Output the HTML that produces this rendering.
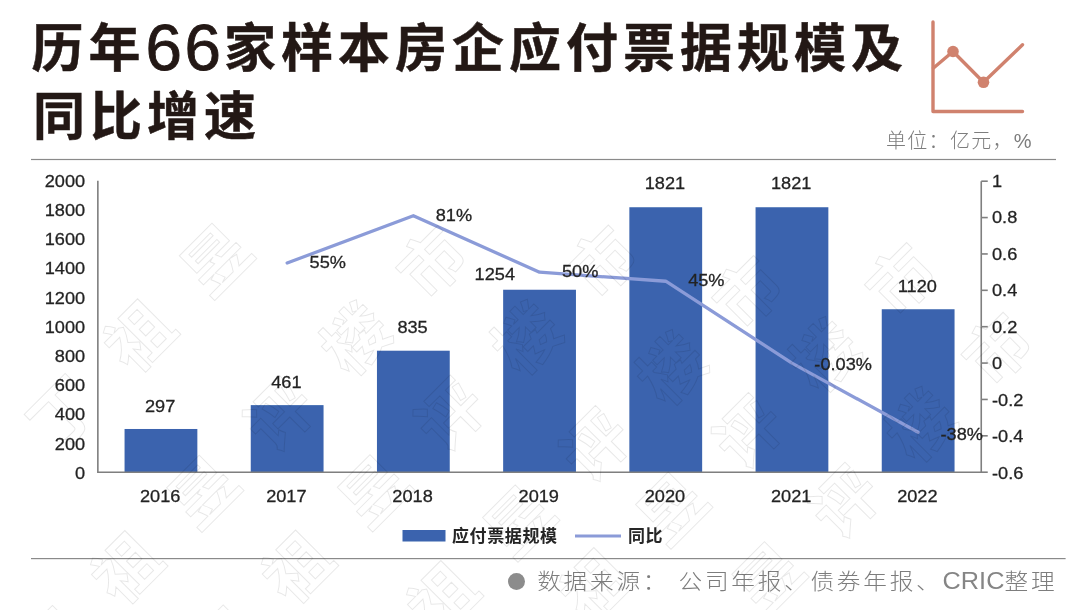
<!DOCTYPE html>
<html lang="zh-CN">
<head>
<meta charset="utf-8">
<title>历年66家样本房企应付票据规模及同比增速</title>
<style>
html,body{margin:0;padding:0;background:#fff;}
body{width:1080px;height:610px;overflow:hidden;position:relative;font-family:"Liberation Sans","Noto Sans CJK SC",sans-serif;}
svg{position:absolute;left:0;top:0;display:block;will-change:transform;}
.t{font-family:"Liberation Sans","Noto Sans CJK SC",sans-serif;}
.ax{font-family:"Liberation Sans",sans-serif;font-size:17px;fill:#242424;stroke:#242424;stroke-width:0.28px;}
.title{font-family:"Liberation Sans","Noto Sans CJK SC",sans-serif;font-weight:700;font-size:52px;fill:#231815;letter-spacing:5px;stroke:#231815;stroke-width:0.5px;}
.d66{font-family:"Liberation Sans",sans-serif;font-weight:400;font-size:65.5px;letter-spacing:2.7px;stroke:#231815;stroke-width:0.9px;}
.wm{font-family:"Noto Sans CJK SC","Liberation Sans",sans-serif;font-weight:700;font-size:65px;fill:none;stroke:rgba(0,0,0,0.095);stroke-width:1;}
</style>
</head>
<body>
<svg width="1080" height="610" viewBox="0 0 1080 610">
<rect x="0" y="0" width="1080" height="610" fill="#ffffff"/>


<text class="title" x="31.5" y="66.5">历年<tspan class="d66" x="145.4" y="70.3">66</tspan><tspan x="224" y="66.5">家样本房企应付票据规模及</tspan></text>
<text class="title" x="33" y="134.7">同比增速</text>
<g fill="none" stroke="#d0826e" stroke-width="3.4" stroke-linecap="round" stroke-linejoin="round"><path d="M933 22 V111.5 H1022.5"/><path d="M933.5 68 L953 51.5 L983.5 82.3 L1022.5 44.8"/></g>
<circle cx="953" cy="51.5" r="5.8" fill="#d0826e"/><circle cx="983.5" cy="82.3" r="5.8" fill="#d0826e"/>
<text class="t" x="886" y="148" font-size="20" font-weight="300" fill="#7d7d7d" letter-spacing="1.3">单位：亿元，%</text>
<rect x="31" y="158.9" width="1025" height="1.2" fill="#8a8a8a"/>
<rect x="31" y="558" width="1034.6" height="1.2" fill="#8a8a8a"/>
<defs><filter id="soft" x="0" y="0" width="1080" height="610" filterUnits="userSpaceOnUse"><feGaussianBlur stdDeviation="0.55"/></filter></defs>
<g filter="url(#soft)">
<rect x="124.55" y="428.99" width="72.80" height="43.21" fill="#3a64ae"/>
<rect x="250.75" y="405.12" width="72.80" height="67.08" fill="#3a64ae"/>
<rect x="376.95" y="350.71" width="72.80" height="121.49" fill="#3a64ae"/>
<rect x="503.15" y="289.74" width="72.80" height="182.46" fill="#3a64ae"/>
<rect x="629.35" y="207.24" width="72.80" height="264.96" fill="#3a64ae"/>
<rect x="755.55" y="207.24" width="72.80" height="264.96" fill="#3a64ae"/>
<rect x="881.75" y="309.24" width="72.80" height="162.96" fill="#3a64ae"/>
<g stroke="#7f7f7f" stroke-width="1.6" fill="none">
<path d="M97.85 180.70 V472.20 H981.25 V181.20"/>
<path d="M981.25 181.20 h6.5"/>
<path d="M981.25 217.57 h6.5"/>
<path d="M981.25 253.95 h6.5"/>
<path d="M981.25 290.32 h6.5"/>
<path d="M981.25 326.70 h6.5"/>
<path d="M981.25 363.07 h6.5"/>
<path d="M981.25 399.45 h6.5"/>
<path d="M981.25 435.82 h6.5"/>
<path d="M981.25 472.20 h6.5"/>
</g>
<polyline fill="none" stroke="#8b9bd8" stroke-width="3.3" stroke-linejoin="round" stroke-linecap="round" points="287.15,263.04 413.35,215.76 539.55,272.14 665.75,281.23 791.95,363.13 918.15,432.19"/>
<text class="ax" transform="translate(85.20 186.70) scale(1.07 1)" text-anchor="end">2000</text>
<text class="ax" transform="translate(85.20 215.90) scale(1.07 1)" text-anchor="end">1800</text>
<text class="ax" transform="translate(85.20 245.10) scale(1.07 1)" text-anchor="end">1600</text>
<text class="ax" transform="translate(85.20 274.30) scale(1.07 1)" text-anchor="end">1400</text>
<text class="ax" transform="translate(85.20 303.50) scale(1.07 1)" text-anchor="end">1200</text>
<text class="ax" transform="translate(85.20 332.70) scale(1.07 1)" text-anchor="end">1000</text>
<text class="ax" transform="translate(85.20 361.90) scale(1.07 1)" text-anchor="end">800</text>
<text class="ax" transform="translate(85.20 391.10) scale(1.07 1)" text-anchor="end">600</text>
<text class="ax" transform="translate(85.20 420.30) scale(1.07 1)" text-anchor="end">400</text>
<text class="ax" transform="translate(85.20 449.50) scale(1.07 1)" text-anchor="end">200</text>
<text class="ax" transform="translate(85.20 478.70) scale(1.07 1)" text-anchor="end">0</text>
<text class="ax" transform="translate(992.00 186.70) scale(1.07 1)" text-anchor="start">1</text>
<text class="ax" transform="translate(992.00 223.20) scale(1.07 1)" text-anchor="start">0.8</text>
<text class="ax" transform="translate(992.00 259.70) scale(1.07 1)" text-anchor="start">0.6</text>
<text class="ax" transform="translate(992.00 296.20) scale(1.07 1)" text-anchor="start">0.4</text>
<text class="ax" transform="translate(992.00 332.70) scale(1.07 1)" text-anchor="start">0.2</text>
<text class="ax" transform="translate(992.00 369.20) scale(1.07 1)" text-anchor="start">0</text>
<text class="ax" transform="translate(992.00 405.70) scale(1.07 1)" text-anchor="start">-0.2</text>
<text class="ax" transform="translate(992.00 442.20) scale(1.07 1)" text-anchor="start">-0.4</text>
<text class="ax" transform="translate(992.00 478.70) scale(1.07 1)" text-anchor="start">-0.6</text>
<text class="ax" transform="translate(160.15 501.60) scale(1.07 1)" text-anchor="middle">2016</text>
<text class="ax" transform="translate(286.35 501.60) scale(1.07 1)" text-anchor="middle">2017</text>
<text class="ax" transform="translate(412.55 501.60) scale(1.07 1)" text-anchor="middle">2018</text>
<text class="ax" transform="translate(538.75 501.60) scale(1.07 1)" text-anchor="middle">2019</text>
<text class="ax" transform="translate(664.95 501.60) scale(1.07 1)" text-anchor="middle">2020</text>
<text class="ax" transform="translate(791.15 501.60) scale(1.07 1)" text-anchor="middle">2021</text>
<text class="ax" transform="translate(917.35 501.60) scale(1.07 1)" text-anchor="middle">2022</text>
<text class="ax" transform="translate(160.15 411.69) scale(1.07 1)" text-anchor="middle">297</text>
<text class="ax" transform="translate(286.35 387.82) scale(1.07 1)" text-anchor="middle">461</text>
<text class="ax" transform="translate(412.55 333.41) scale(1.07 1)" text-anchor="middle">835</text>
<text class="ax" transform="translate(494.80 279.80) scale(1.07 1)" text-anchor="middle">1254</text>
<text class="ax" transform="translate(664.95 188.94) scale(1.07 1)" text-anchor="middle">1821</text>
<text class="ax" transform="translate(791.15 188.94) scale(1.07 1)" text-anchor="middle">1821</text>
<text class="ax" transform="translate(917.35 291.94) scale(1.07 1)" text-anchor="middle">1120</text>
<text class="ax" transform="translate(309.55 268.14) scale(1.07 1)" text-anchor="start">55%</text>
<text class="ax" transform="translate(435.75 220.86) scale(1.07 1)" text-anchor="start">81%</text>
<text class="ax" transform="translate(561.95 277.24) scale(1.07 1)" text-anchor="start">50%</text>
<text class="ax" transform="translate(688.15 286.33) scale(1.07 1)" text-anchor="start">45%</text>
<text class="ax" transform="translate(814.35 369.73) scale(1.07 1)" text-anchor="start">-0.03%</text>
<text class="ax" transform="translate(940.55 439.59) scale(1.07 1)" text-anchor="start">-38%</text>
<rect x="402.5" y="530" width="43" height="11.5" fill="#3a64ae"/>
<text class="t" x="452" y="542" font-size="17" font-weight="700" fill="#262626" letter-spacing="0.6">应付票据规模</text>
<path d="M575 536 H621" stroke="#8b9bd8" stroke-width="3" fill="none"/>
<text class="t" x="628" y="542" font-size="17" font-weight="700" fill="#262626" letter-spacing="0.6">同比</text>
</g>
<circle cx="516.5" cy="581.5" r="8.5" fill="#8c8c8c"/>
<text class="t" transform="translate(537.2 589) scale(1.1 1)" font-size="21.5" font-weight="300" fill="#7d7d7d" letter-spacing="2.5" xml:space="preserve">数据来源： 公司年报、债券年报、<tspan x="368.55" font-size="23" letter-spacing="0" fill="#858585">CRIC</tspan><tspan x="424.91">整理</tspan></text>
<g>
<text class="wm" transform="translate(57.2 452.5) rotate(-45)" letter-spacing="43.0">丁祖昱</text>
<text class="wm" transform="translate(44.4 684.4) rotate(-45)" letter-spacing="43.0">丁祖昱评楼市</text>
<text class="wm" transform="translate(215.2 683.9) rotate(-45)" letter-spacing="43.0">丁祖昱评楼市</text>
<text class="wm" transform="translate(360.4 714.3) rotate(-45)" letter-spacing="43.0">丁祖昱评楼市</text>
<text class="wm" transform="translate(513.5 701.3) rotate(-45)" letter-spacing="43.0">丁祖昱评楼市</text>
<text class="wm" transform="translate(609.8 771.0) rotate(-45)" letter-spacing="43.0">丁祖昱评楼市</text>
</g>
</svg>
</body>
</html>
